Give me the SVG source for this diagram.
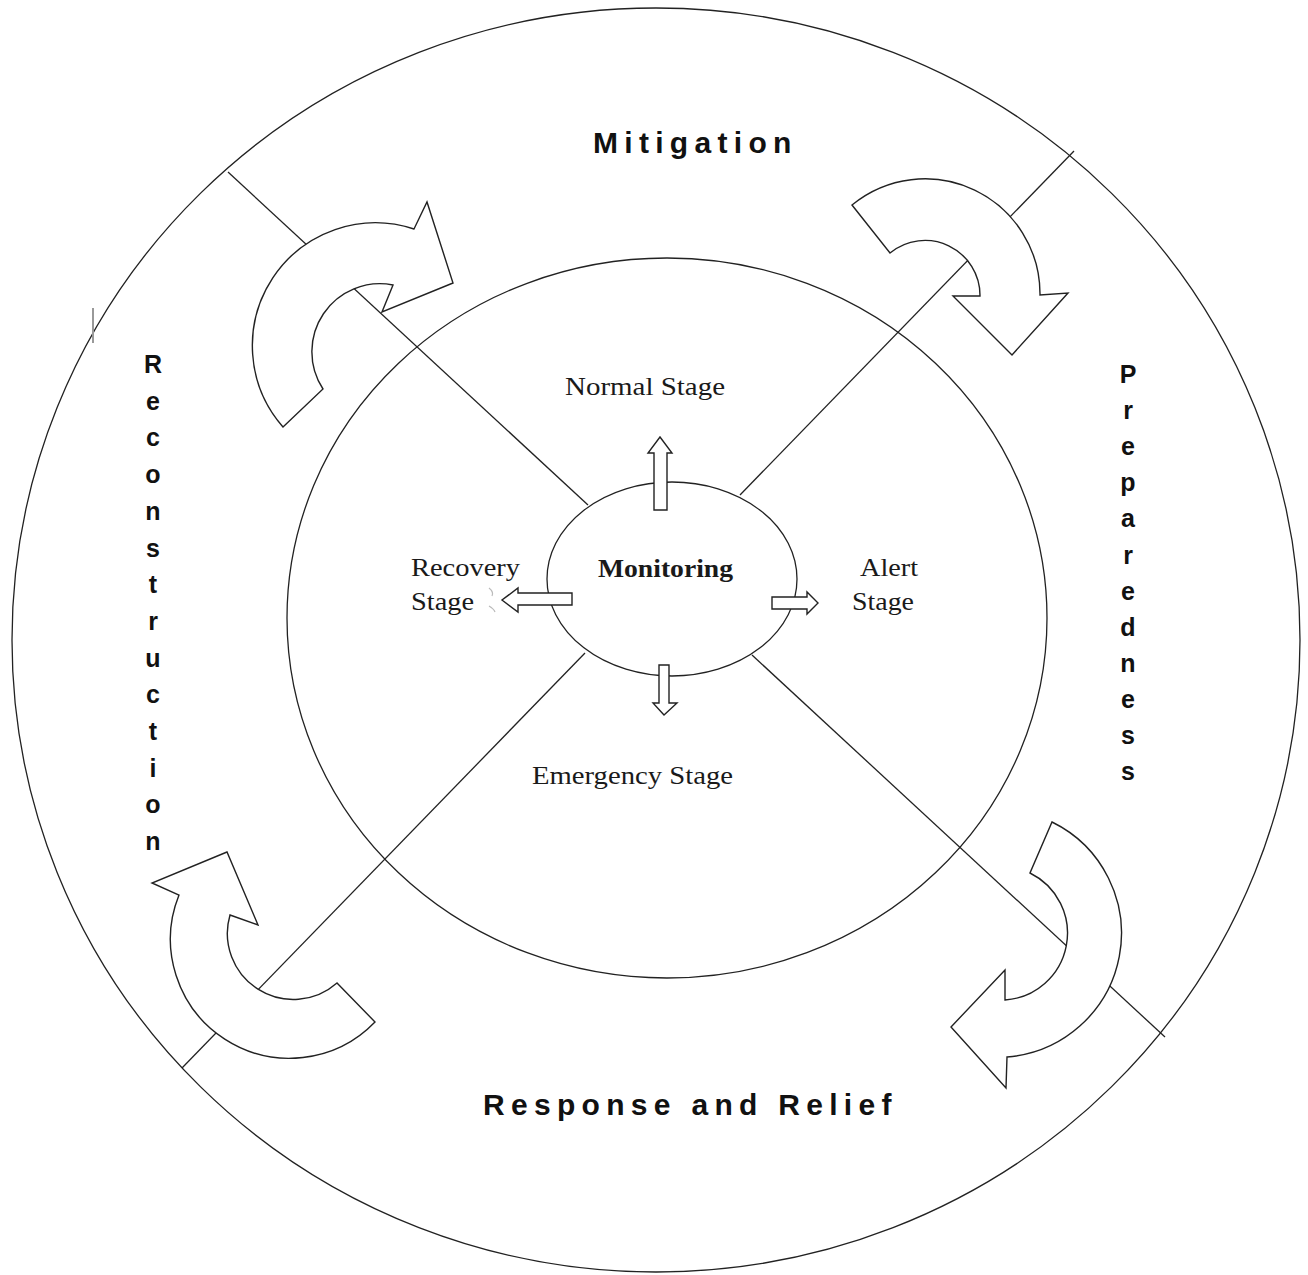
<svg xmlns="http://www.w3.org/2000/svg" width="1308" height="1275" viewBox="0 0 1308 1275">
<style>
.ln{fill:none;stroke:#222;stroke-width:1.3}
.shape{fill:#fff;stroke:#222;stroke-width:1.4;stroke-linejoin:miter}
.phase{font-family:"Liberation Sans",Arial,sans-serif;font-weight:bold;fill:#111}
.hz{font-size:30px;letter-spacing:6.3px}
.vt{font-size:25px;text-anchor:middle}
.stage{font-family:"Liberation Serif","Times New Roman",serif;font-size:26px;fill:#1a1a1a}
</style>
<rect width="1308" height="1275" fill="#fff"/>
<g id="outer-ring"><ellipse class="ln" cx="656" cy="640" rx="644" ry="632"/></g>
<g id="inner-ring"><ellipse class="ln" cx="667" cy="618" rx="380" ry="360"/></g>
<g id="connectors">
  <line class="ln" x1="228" y1="172" x2="588" y2="505"/>
  <line class="ln" x1="1074" y1="151" x2="740" y2="495"/>
  <line class="ln" x1="182" y1="1068" x2="585" y2="653"/>
  <line class="ln" x1="1165" y1="1037" x2="752" y2="655"/>
  <path class="shape" d="M283,427 A123,123 0 0 1 414,229 L427,202 L453,283 L382,312 L393,285 A68,68 0 0 0 323,389 Z"/>
  <path class="shape" d="M852,205 A115,115 0 0 1 1040,295 L1068,293 L1012,355 L953,296 L980,296 A55,55 0 0 0 890,253 Z"/>
  <path class="shape" d="M227,852 L152,883 L179,895 A119,119 0 0 0 375,1022 L337,983 A66,66 0 0 1 230,915 L258,925 Z"/>
  <path class="shape" d="M1052,822 A124,124 0 0 1 1007,1057 L1006,1088 L951,1027 L1005,970 L1005,1000 A67,67 0 0 0 1030,873 Z"/>
  <line x1="93" y1="308" x2="93" y2="343" stroke="#999" stroke-width="2"/>
  <path d="M489,588 Q494,592 492,596 M489,606 Q494,609 495,612" fill="none" stroke="#bbb" stroke-width="1.2"/>
</g>
<g id="monitoring">
  <ellipse class="ln" cx="672" cy="579" rx="125" ry="97"/>
  <text class="stage" x="598" y="577" font-weight="bold" textLength="135" lengthAdjust="spacingAndGlyphs">Monitoring</text>
</g>
<g id="stage-arrows">
  <polygon class="shape" points="654,510 654,453 648,453 660,437 672,453 667,453 667,510"/>
  <polygon class="shape" points="659,665 659,703 653,703 664,715 677,703 669,703 669,665"/>
  <polygon class="shape" points="572,593 518,593 518,588 502,600 518,612 518,605 572,605"/>
  <polygon class="shape" points="772,597 807,597 807,592 818,603 807,614 807,609 772,609"/>
</g>
<g id="normal-stage"><text class="stage" x="565" y="395" textLength="160" lengthAdjust="spacingAndGlyphs">Normal Stage</text></g>
<g id="emergency-stage"><text class="stage" x="532" y="784" textLength="201" lengthAdjust="spacingAndGlyphs">Emergency Stage</text></g>
<g id="recovery-stage">
  <text class="stage" x="411" y="576" textLength="109" lengthAdjust="spacingAndGlyphs">Recovery</text>
  <text class="stage" x="411" y="610" textLength="63" lengthAdjust="spacingAndGlyphs">Stage</text>
</g>
<g id="alert-stage">
  <text class="stage" x="860" y="576" textLength="58" lengthAdjust="spacingAndGlyphs">Alert</text>
  <text class="stage" x="852" y="610" textLength="62" lengthAdjust="spacingAndGlyphs">Stage</text>
</g>
<g id="mitigation"><text class="phase hz" x="593" y="153">Mitigation</text></g>
<g id="response-and-relief"><text class="phase hz" x="483" y="1115">Response and Relief</text></g>
<g id="reconstruction"><text class="phase vt">
  <tspan x="153" y="373">R</tspan><tspan x="153" y="409.7">e</tspan><tspan x="153" y="446.4">c</tspan><tspan x="153" y="483.1">o</tspan><tspan x="153" y="519.8">n</tspan><tspan x="153" y="556.5">s</tspan><tspan x="153" y="593.2">t</tspan><tspan x="153" y="629.9">r</tspan><tspan x="153" y="666.6">u</tspan><tspan x="153" y="703.3">c</tspan><tspan x="153" y="740">t</tspan><tspan x="153" y="776.7">i</tspan><tspan x="153" y="813.4">o</tspan><tspan x="153" y="850.1">n</tspan>
</text></g>
<g id="preparedness"><text class="phase vt">
  <tspan x="1128" y="383">P</tspan><tspan x="1128" y="419.1">r</tspan><tspan x="1128" y="455.2">e</tspan><tspan x="1128" y="491.3">p</tspan><tspan x="1128" y="527.4">a</tspan><tspan x="1128" y="563.5">r</tspan><tspan x="1128" y="599.6">e</tspan><tspan x="1128" y="635.7">d</tspan><tspan x="1128" y="671.8">n</tspan><tspan x="1128" y="707.9">e</tspan><tspan x="1128" y="744">s</tspan><tspan x="1128" y="780.1">s</tspan>
</text></g>
</svg>
